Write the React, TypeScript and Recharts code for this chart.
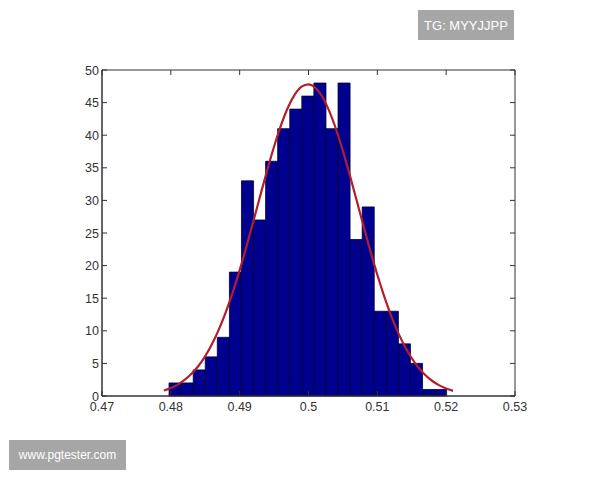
import React from "react";
import {
  ComposedChart,
  Line,
  ReferenceArea,
  XAxis,
  YAxis,
} from "recharts";

// histogram bins (left edges) and counts
const binEdges = [
  0.47974, 0.48149, 0.48325, 0.485, 0.48675, 0.48851, 0.49026, 0.49202,
  0.49377, 0.49552, 0.49728, 0.49903, 0.50078, 0.50254, 0.50429, 0.50604,
  0.5078, 0.50955, 0.51131, 0.51306, 0.51481, 0.51657, 0.51832, 0.52007,
];
const binCounts = [
  2, 2, 4, 6, 9, 19, 33, 27, 36, 41, 44, 46, 48, 41, 48, 24, 29, 13, 13, 8, 5,
  1, 1,
];

// fitted curve
const curveX = [
  0.479, 0.48, 0.481, 0.482, 0.483, 0.484, 0.485, 0.486, 0.487, 0.488, 0.489,
  0.49, 0.491, 0.492, 0.493, 0.494, 0.495, 0.496, 0.497, 0.498, 0.499, 0.5,
  0.501, 0.502, 0.503, 0.504, 0.505, 0.506, 0.507, 0.508, 0.509, 0.51, 0.511,
  0.512, 0.513, 0.514, 0.515, 0.516, 0.517, 0.518, 0.519, 0.52, 0.521,
];
const curveY = [
  0.84, 1.22, 1.75, 2.46, 3.4, 4.6, 6.12, 8.0, 10.25, 12.89, 15.92, 19.3,
  22.96, 26.83, 30.77, 34.64, 38.27, 41.52, 44.22, 46.23, 47.44, 47.8, 47.27,
  45.89, 43.73, 40.91, 37.57, 33.87, 29.98, 26.05, 22.21, 18.59, 15.28, 12.33,
  9.76, 7.59, 5.79, 4.34, 3.19, 2.3, 1.63, 1.14, 0.78,
];

const xTicks = [0.47, 0.48, 0.49, 0.5, 0.51, 0.52, 0.53];
const yTicks = [0, 5, 10, 15, 20, 25, 30, 35, 40, 45, 50];

const curveData = curveX.map((x, i) => ({ x, y: curveY[i] }));

const axisColor = "#333333";
const fontFamily = "Liberation Sans, Arial, sans-serif";
const M = { top: 70, right: 85, bottom: 54, left: 62 };
const W = 600;
const H = 480;
const plotTop = M.top;
const plotRight = W - M.right;
const TICK = 5;
const GAP = 6;

// MATLAB style: ticks point into the box, on both opposite sides too
function XTick(props: any) {
  const { x, y, payload } = props;
  const axisY = y - GAP;
  return (
    <g>
      <line x1={x} y1={axisY} x2={x} y2={axisY - TICK} stroke={axisColor} />
      <line x1={x} y1={plotTop} x2={x} y2={plotTop + TICK} stroke={axisColor} />
      <text
        x={x}
        y={axisY + 15}
        textAnchor="middle"
        fontSize={12.5}
        fill="#333"
        fontFamily={fontFamily}
      >
        {payload.value}
      </text>
    </g>
  );
}

function YTick(props: any) {
  const { x, y, payload } = props;
  const axisX = x + GAP;
  return (
    <g>
      <line x1={axisX} y1={y} x2={axisX + TICK} y2={y} stroke={axisColor} />
      <line x1={plotRight} y1={y} x2={plotRight - TICK} y2={y} stroke={axisColor} />
      <text
        x={axisX - 3}
        y={y + 4.5}
        textAnchor="end"
        fontSize={12.5}
        fill="#333"
        fontFamily={fontFamily}
      >
        {payload.value}
      </text>
    </g>
  );
}

const badge: React.CSSProperties = {
  position: "absolute",
  background: "#a6a6a6",
  color: "#ffffff",
  fontFamily: "Liberation Sans, Arial, sans-serif",
  fontSize: 13,
  display: "flex",
  alignItems: "center",
  justifyContent: "center",
};

export default function App() {
  return (
    <div
      style={{
        position: "absolute",
        left: 0,
        top: 0,
        width: W,
        height: H,
        background: "#fff",
      }}
    >
      <ComposedChart width={W} height={H} data={curveData} margin={M}>
        <XAxis
          dataKey="x"
          type="number"
          domain={[0.47, 0.53]}
          ticks={xTicks}
          interval={0}
          height={30}
          stroke={axisColor}
          tickLine={false}
          tickSize={0}
          tickMargin={GAP}
          tick={<XTick />}
          allowDataOverflow
        />
        <YAxis
          type="number"
          domain={[0, 50]}
          ticks={yTicks}
          interval={0}
          width={40}
          stroke={axisColor}
          tickLine={false}
          tickSize={0}
          tickMargin={GAP}
          tick={<YTick />}
        />
        {binCounts.map((c, i) => (
          <ReferenceArea
            key={i}
            x1={binEdges[i]}
            x2={binEdges[i + 1]}
            y1={0}
            y2={c}
            fill="#00008f"
            fillOpacity={1}
            stroke="#000033"
            strokeWidth={0.8}
            ifOverflow="visible"
          />
        ))}
        <ReferenceArea
          x1={0.47}
          x2={0.53}
          y1={0}
          y2={50}
          fill="none"
          stroke={axisColor}
          strokeWidth={1}
          ifOverflow="visible"
        />
        <Line
          dataKey="y"
          type="monotone"
          stroke="#b41e2c"
          strokeWidth={2.2}
          dot={false}
          isAnimationActive={false}
        />
      </ComposedChart>
      <div style={{ ...badge, left: 418, top: 10, width: 96, height: 30 }}>
        TG: MYYJJPP
      </div>
      <div
        style={{ ...badge, left: 9, top: 440, width: 117, height: 30, fontSize: 12 }}
      >
        www.pgtester.com
      </div>
    </div>
  );
}
